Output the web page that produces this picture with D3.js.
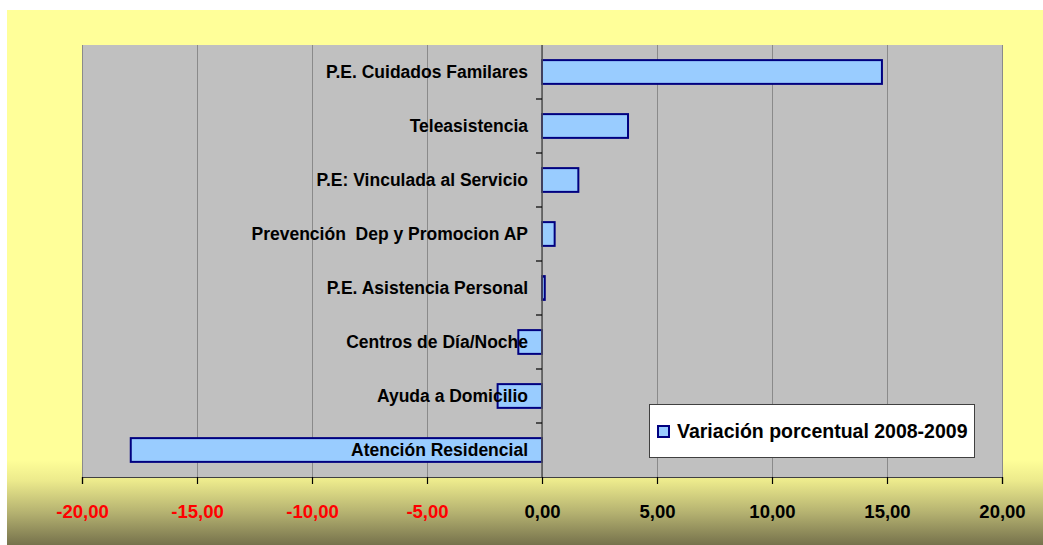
<!DOCTYPE html>
<html lang="es">
<head>
    <meta charset="UTF-8">
    <title>Variación porcentual 2008-2009</title>
    <script src="https://d3js.org/d3.v7.min.js"></script>
    <style>
        body {
            margin: 0;
            background: #ffffff;
        }
        svg {
            display: block;
            font-family: "Liberation Sans", Arial, sans-serif;
        }
        .cat-label {
            font-size: 17.5px;
            font-weight: bold;
            fill: #000000;
            white-space: pre;
        }
        .tick-label {
            font-size: 18.5px;
            font-weight: bold;
        }
        .legend-text {
            font-size: 19.5px;
            font-weight: bold;
            fill: #000000;
        }
    </style>
</head>
<body>
    <svg></svg>

    <script>
        // Datos (orden de arriba a abajo)
        const categories = [
            "P.E. Cuidados Familares",
            "Teleasistencia",
            "P.E: Vinculada al Servicio",
            "Prevención  Dep y Promocion AP",
            "P.E. Asistencia Personal",
            "Centros de Día/Noche",
            "Ayuda a Domicilio",
            "Atención Residencial"
        ];
        const values = [14.78, 3.74, 1.58, 0.55, 0.12, -1.03, -1.93, -17.88];
        const xTicks = [-20, -15, -10, -5, 0, 5, 10, 15, 20];
        const seriesName = "Variación porcentual 2008-2009";

        const data = categories.map((c, i) => ({ cat: c, value: values[i] }));

        const width = 1043;
        const height = 545;

        const svg = d3.select("svg")
            .attr("width", width)
            .attr("height", height);

        // fondo degradado
        const defs = svg.append("defs");
        const grad = defs.append("linearGradient")
            .attr("id", "bg")
            .attr("x1", 0).attr("y1", 0).attr("x2", 0).attr("y2", 1);
        grad.append("stop").attr("offset", "0%").attr("stop-color", "#FFFF99");
        grad.append("stop").attr("offset", "84%").attr("stop-color", "#FFFF99");
        grad.append("stop").attr("offset", "88%").attr("stop-color", "#ECEA8C");
        grad.append("stop").attr("offset", "94%").attr("stop-color", "#B4B170");
        grad.append("stop").attr("offset", "100%").attr("stop-color", "#76724C");

        svg.append("rect")
            .attr("x", 7)
            .attr("y", 10)
            .attr("width", width - 7)
            .attr("height", height - 10)
            .attr("fill", "url(#bg)");

        const plot = { left: 82, right: 1002, top: 45, bottom: 477 };

        const x = d3.scaleLinear()
            .domain([-20, 20])
            .range([plot.left, plot.right]);

        const y = d3.scaleBand()
            .domain(categories)
            .range([plot.top, plot.bottom])
            .paddingInner(0.56)
            .paddingOuter(0.28);

        // formato con coma decimal y guion normal
        const es = d3.formatLocale({ decimal: ",", thousands: ".", grouping: [3], currency: ["", " €"], minus: "-" });
        const fmt = es.format(".2f");

        // área del gráfico
        svg.append("rect")
            .attr("x", plot.left)
            .attr("y", plot.top)
            .attr("width", plot.right - plot.left)
            .attr("height", plot.bottom - plot.top)
            .attr("fill", "#C0C0C0");

        // líneas de división
        svg.append("g")
            .selectAll("line")
            .data(xTicks)
            .enter()
            .append("line")
            .attr("x1", d => x(d) + 0.5)
            .attr("x2", d => x(d) + 0.5)
            .attr("y1", plot.top)
            .attr("y2", plot.bottom)
            .attr("stroke", "#8A8A8A")
            .attr("stroke-width", 1);

        // eje X
        const xAxis = svg.append("g")
            .attr("transform", `translate(0,${plot.bottom})`)
            .call(d3.axisBottom(x)
                .tickValues(xTicks)
                .tickSize(7)
                .tickPadding(21)
                .tickFormat(fmt));
        xAxis.select(".domain").attr("stroke", "#404040").attr("stroke-width", 1.2);
        xAxis.selectAll(".tick line").attr("stroke", "#000000").attr("stroke-width", 1.2);
        xAxis.selectAll(".tick text")
            .attr("class", "tick-label")
            .attr("font-family", null)
            .attr("font-size", null)
            .attr("fill", d => d < 0 ? "#FF0000" : "#000000");

        // barras
        svg.append("g")
            .selectAll("rect")
            .data(data)
            .enter()
            .append("rect")
            .attr("x", d => x(Math.min(0, d.value)))
            .attr("y", d => y(d.cat))
            .attr("width", d => Math.abs(x(d.value) - x(0)))
            .attr("height", y.bandwidth())
            .attr("fill", "#99CCFF")
            .attr("stroke", "#000080")
            .attr("stroke-width", 2);

        // eje de categorías en el cero
        const boundaries = d3.range(1, categories.length).map(i => plot.top + i * (plot.bottom - plot.top) / categories.length);
        svg.append("line")
            .attr("x1", x(0))
            .attr("x2", x(0))
            .attr("y1", plot.top)
            .attr("y2", plot.bottom)
            .attr("stroke", "#555555")
            .attr("stroke-width", 1.5);
        svg.append("g")
            .selectAll("line")
            .data(boundaries)
            .enter()
            .append("line")
            .attr("x1", x(0) - 6)
            .attr("x2", x(0))
            .attr("y1", d => d)
            .attr("y2", d => d)
            .attr("stroke", "#000000")
            .attr("stroke-width", 1.2);

        // etiquetas de categorías
        svg.append("g")
            .selectAll("text")
            .data(data)
            .enter()
            .append("text")
            .attr("class", "cat-label")
            .attr("x", x(0) - 14)
            .attr("y", d => y(d.cat) + y.bandwidth() / 2)
            .attr("dy", "0.36em")
            .attr("text-anchor", "end")
            .text(d => d.cat);

        // leyenda
        const legend = svg.append("g").attr("transform", "translate(649,404)");
        legend.append("rect")
            .attr("x", 0.5)
            .attr("y", 0.5)
            .attr("width", 325)
            .attr("height", 53)
            .attr("fill", "#ffffff")
            .attr("stroke", "#404040")
            .attr("stroke-width", 1);
        legend.append("rect")
            .attr("x", 9)
            .attr("y", 22)
            .attr("width", 11)
            .attr("height", 11)
            .attr("fill", "#99CCFF")
            .attr("stroke", "#000080")
            .attr("stroke-width", 2);
        legend.append("text")
            .attr("class", "legend-text")
            .attr("x", 28)
            .attr("y", 34)
            .text(seriesName);
    </script>
</body>
</html>
